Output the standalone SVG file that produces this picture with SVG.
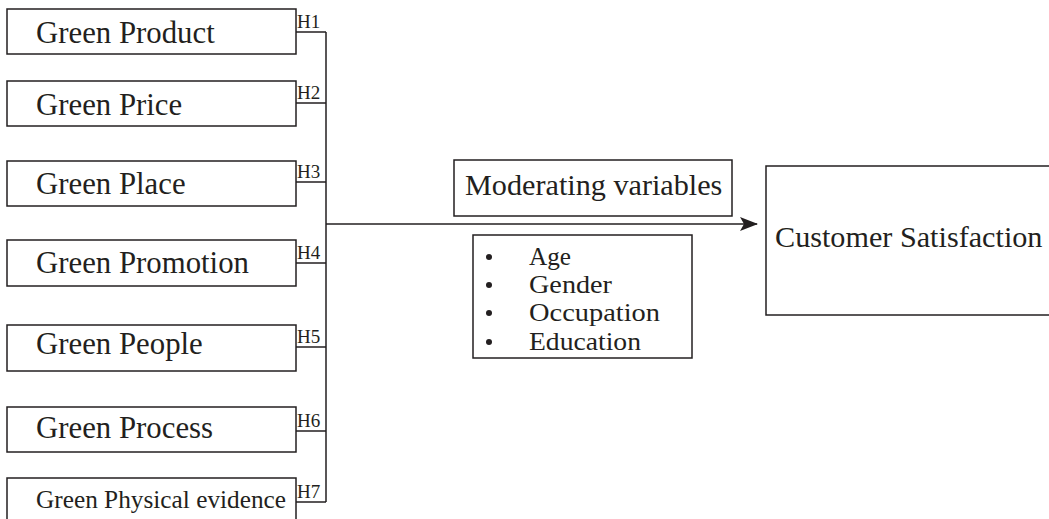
<svg xmlns="http://www.w3.org/2000/svg" width="1049" height="519" viewBox="0 0 1049 519">
<style>
.box{fill:#fff;stroke:#231f20;stroke-width:1.5}
.lbl{font-family:"Liberation Serif",serif;font-size:30.8px;fill:#231f20}
.sm{font-family:"Liberation Serif",serif;font-size:25.3px;fill:#231f20}
.mid{font-family:"Liberation Serif",serif;font-size:30.2px;fill:#231f20}
.li{font-family:"Liberation Serif",serif;font-size:25px;fill:#231f20}
.h{font-family:"Liberation Serif",serif;font-size:19px;fill:#231f20}
.ln{fill:none;stroke:#231f20;stroke-width:1.5}
.dot{fill:#231f20}
</style>
<defs>
<marker id="arr" markerWidth="18" markerHeight="14" refX="17" refY="7" orient="auto" markerUnits="userSpaceOnUse">
<path d="M0,0 L18,7 L0,14 L4,7 Z" fill="#231f20"/>
</marker>
</defs>
<rect width="1049" height="519" fill="#fff"/>
<g id="n1"><rect class="box" x="7" y="9" width="289" height="45"/><text class="lbl" x="36" y="43">Green Product</text></g>
<g id="n2"><rect class="box" x="7" y="81" width="289" height="45"/><text class="lbl" x="36" y="115">Green Price</text></g>
<g id="n3"><rect class="box" x="7" y="161" width="289" height="45"/><text class="lbl" x="36" y="194">Green Place</text></g>
<g id="n4"><rect class="box" x="7" y="240" width="289" height="46"/><text class="lbl" x="36" y="273">Green Promotion</text></g>
<g id="n5"><rect class="box" x="7" y="325" width="289" height="46"/><text class="lbl" x="36" y="354">Green People</text></g>
<g id="n6"><rect class="box" x="7" y="407" width="289" height="45"/><text class="lbl" x="36" y="438">Green Process</text></g>
<g id="n7"><rect class="box" x="7" y="478" width="289" height="60"/><text class="sm" x="36" y="508">Green Physical evidence</text></g>
<g id="moderating"><rect class="box" x="454" y="160" width="278" height="56"/><text class="mid" x="465" y="195">Moderating variables</text></g>
<g id="variables">
<rect class="box" x="473" y="235" width="219" height="123"/>
<circle class="dot" cx="489" cy="257" r="3"/>
<circle class="dot" cx="489" cy="285" r="3"/>
<circle class="dot" cx="489" cy="313" r="3"/>
<circle class="dot" cx="489" cy="342" r="3"/>
<text class="li" x="529" y="265" textLength="42" lengthAdjust="spacingAndGlyphs">Age</text>
<text class="li" x="529" y="293" textLength="83" lengthAdjust="spacingAndGlyphs">Gender</text>
<text class="li" x="529" y="321" textLength="131" lengthAdjust="spacingAndGlyphs">Occupation</text>
<text class="li" x="529" y="350" textLength="112" lengthAdjust="spacingAndGlyphs">Education</text>
</g>
<g id="satisfaction"><rect class="box" x="766" y="166" width="300" height="149"/><text class="mid" x="775" y="247">Customer Satisfaction</text></g>
<g id="connectors">
<path class="ln" d="M296,32 H326 M296,103 H326 M296,182 H326 M296,263 H326 M296,347 H326 M296,431 H326 M296,502 H326 M326,32 V502"/>
<path class="ln" d="M326,224 H757" marker-end="url(#arr)"/>
<text class="h" x="297" y="28">H1</text>
<text class="h" x="297" y="99">H2</text>
<text class="h" x="297" y="178">H3</text>
<text class="h" x="297" y="259">H4</text>
<text class="h" x="297" y="343">H5</text>
<text class="h" x="297" y="427">H6</text>
<text class="h" x="297" y="498">H7</text>
</g>
</svg>
